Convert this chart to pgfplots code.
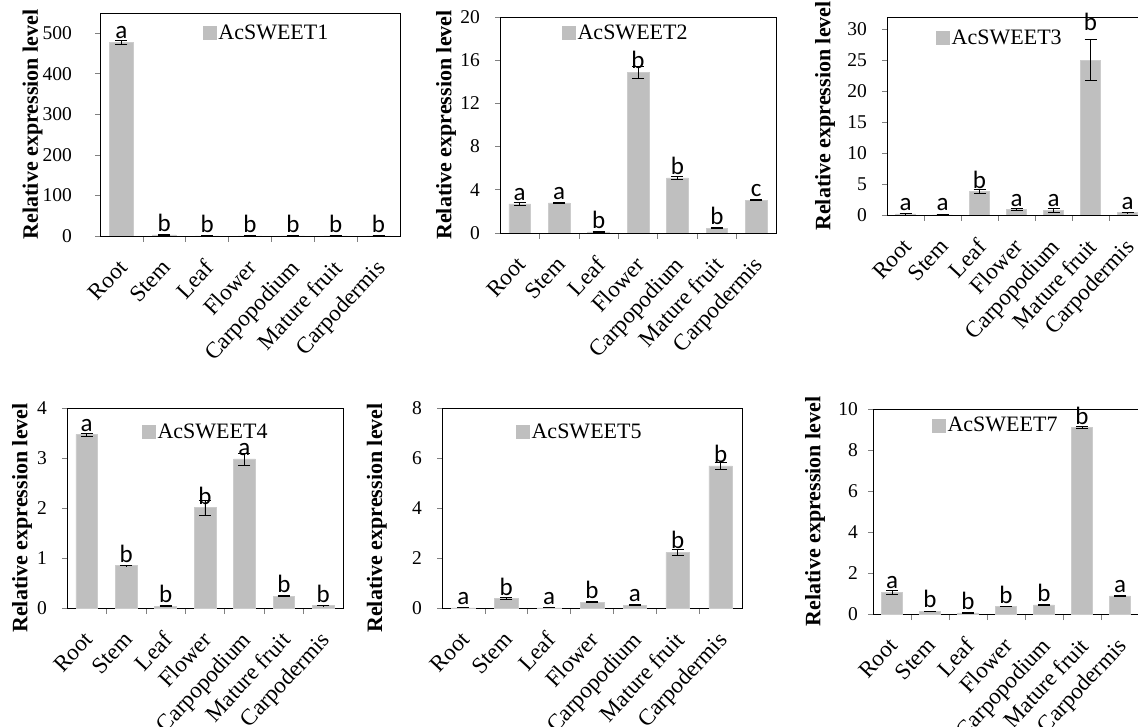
\documentclass[border=0pt]{standalone}
\usepackage{pgfplots}
\pgfplotsset{compat=1.18}
\usepackage{fontspec}
\setmainfont{Liberation Serif}
\newfontfamily\calfont{Carlito}
\definecolor{barfill}{HTML}{BFBFBF}
\definecolor{baredge}{HTML}{CCCCCC}
\newcommand\tfont{\fontsize{19.5}{21}\selectfont}
\newcommand\cfont{\fontsize{23}{25}\selectfont}
\newcommand\lfont{\fontsize{22}{24}\selectfont\bfseries}
\newcommand\gfont{\fontsize{22}{24}\selectfont}
\newcommand\afont{\calfont\fontsize{25}{27}\selectfont}
\pgfplotsset{
  sweet/.style={
    scale only axis,
    xmin=-0.5, xmax=6.5, ymin=0,
    xtick={0,...,6},
    xticklabels={Root,Stem,Leaf,Flower,Carpopodium,Mature fruit,Carpodermis},
    minor xtick={0.5,1.5,...,5.5},
    xtick pos=bottom, ytick pos=left, tick align=outside,
    major x tick style={draw=none},
    minor tick length=6pt, major tick length=5pt,
    tick style={gray, line width=0.7pt},
    xticklabel style={xshift=-4pt, yshift=-17pt, rotate=47, anchor=north east, font=\cfont, inner sep=0pt},
    yticklabel style={xshift=#1, font=\tfont, inner sep=0pt},
    /pgf/number format/assume math mode=true,
    axis line style={black, line width=0.7pt},
    ylabel={Relative expression level},
    ylabel style={font=\lfont},
    legend style={draw=none, fill=none, font=\gfont, anchor=west, inner sep=0pt, outer sep=0pt},
    legend image code/.code={\fill[barfill] (0pt,-6.5pt) rectangle (13pt,6.5pt);},
  },
  sweet/.default=-15pt,
  sweetbar/.style={ybar, bar width=0.55, fill=barfill, draw=baredge, line width=0.5pt,
    error bars/.cd, y dir=both, y explicit,
    error bar style={black, line width=0.9pt},
    error mark options={rotate=90, black, line width=0.9pt, mark size=6pt}},
  sweetlet/.style={draw=none, mark=none, nodes near coords, point meta=explicit symbolic,
    nodes near coords style={anchor=south, font=\afont, inner sep=3pt, black}, forget plot},
}
\begin{document}
\begin{tikzpicture}
\useasboundingbox (0,0) rectangle (1138pt,726pt);

% Panel 1
\begin{axis}[sweet=-23pt, at={(100pt,490pt)}, anchor=south west, width=300pt, height=223pt,
  ymax=550, ytick={0,100,...,500},
  ylabel style={at={(axis description cs:-0.225,0.5)}, anchor=center},
  legend style={at={(0.343,0.91)}}]
\addplot[sweetbar] coordinates {(0,478) +- (0,5) (1,3) +- (0,0.5) (2,0.3) +- (0,0) (3,0.3) +- (0,0) (4,0.3) +- (0,0) (5,0.3) +- (0,0) (6,0.3) +- (0,0)};
\addlegendentry{AcSWEET1}
\addplot[sweetlet] coordinates {(0,478)[a] (1,3)[b] (2,0.3)[b] (3,0.3)[b] (4,0.3)[b] (5,0.3)[b] (6,0.3)[b]};
\end{axis}

% Panel 2
\begin{axis}[sweet=-15pt, at={(500pt,493pt)}, anchor=south west, width=276pt, height=216pt,
  ymax=20, ytick={0,4,...,20},
  ylabel style={at={(axis description cs:-0.195,0.5)}, anchor=center},
  legend style={at={(0.225,0.926)}}]
\addplot[sweetbar] coordinates {(0,2.7) +- (0,0.15) (1,2.8) +- (0,0.05) (2,0.1) +- (0,0.03) (3,14.9) +- (0,0.55) (4,5.1) +- (0,0.15) (5,0.45) +- (0,0.05) (6,3.05) +- (0,0.05)};
\addlegendentry{AcSWEET2}
\addplot[sweetlet] coordinates {(0,2.7)[a] (1,2.8)[a] (2,0.1)[b] (3,14.9)[b] (4,5.1)[b] (5,0.45)[b] (6,3.05)[c]};
\end{axis}

% Panel 3
\begin{axis}[sweet=-15pt, at={(887pt,511pt)}, anchor=south west, width=259pt, height=198pt,
  ymax=32, ytick={0,5,...,30},
  ylabel style={at={(axis description cs:-0.239,0.5)}, anchor=center},
  legend style={at={(0.19,0.894)}}]
\addplot[sweetbar] coordinates {(0,0.2) +- (0,0.03) (1,0.02) +- (0,0) (2,3.76) +- (0,0.3) (3,0.9) +- (0,0.1) (4,0.75) +- (0,0.3) (5,25.0) +- (0,3.3) (6,0.4) +- (0,0.05)};
\addlegendentry{AcSWEET3}
\addplot[sweetlet] coordinates {(0,0.2)[a] (1,0.2)[a] (2,3.76)[b] (3,0.9)[a] (4,0.75)[a] (5,29.2)[b] (6,0.4)[a]};
\end{axis}

% Panel 4
\begin{axis}[sweet=-15pt, at={(67pt,118pt)}, anchor=south west, width=276pt, height=200pt,
  ymax=4, ytick={0,1,...,4},
  ylabel style={at={(axis description cs:-0.163,0.45)}, anchor=center},
  legend style={at={(0.272,0.88)}}]
\addplot[sweetbar] coordinates {(0,3.47) +- (0,0.03) (1,0.85) +- (0,0.005) (2,0.04) +- (0,0.01) (3,2.01) +- (0,0.15) (4,2.98) +- (0,0.12) (5,0.24) +- (0,0.01) (6,0.05) +- (0,0.005)};
\addlegendentry{AcSWEET4}
\addplot[sweetlet] coordinates {(0,3.47)[a] (1,0.85)[b] (2,0.04)[b] (3,2.01)[b] (4,2.98)[a] (5,0.24)[b] (6,0.05)[b]};
\end{axis}

% Panel 5
\begin{axis}[sweet=-15pt, at={(442pt,118pt)}, anchor=south west, width=300pt, height=200pt,
  ymax=8, ytick={0,2,...,8},
  ylabel style={at={(axis description cs:-0.217,0.45)}, anchor=center},
  legend style={at={(0.247,0.88)}}]
\addplot[sweetbar] coordinates {(0,0.005) +- (0,0) (1,0.38) +- (0,0.03) (2,0.005) +- (0,0) (3,0.24) +- (0,0.02) (4,0.12) +- (0,0.02) (5,2.23) +- (0,0.12) (6,5.69) +- (0,0.15)};
\addlegendentry{AcSWEET5}
\addplot[sweetlet] coordinates {(0,0.005)[a] (1,0.38)[b] (2,0.005)[a] (3,0.24)[b] (4,0.12)[a] (5,2.23)[b] (6,5.69)[b]};
\end{axis}

% Panel 6
\begin{axis}[sweet=-10pt, at={(873pt,112pt)}, anchor=south west, width=266pt, height=205pt,
  ymax=10, ytick={0,2,...,10},
  ylabel style={at={(axis description cs:-0.218,0.5)}, anchor=center},
  legend style={at={(0.222,0.92)}}]
\addplot[sweetbar] coordinates {(0,1.07) +- (0,0.1) (1,0.13) +- (0,0.01) (2,0.06) +- (0,0.01) (3,0.37) +- (0,0.01) (4,0.45) +- (0,0.01) (5,9.1) +- (0,0.07) (6,0.89) +- (0,0.03)};
\addlegendentry{AcSWEET7}
\addplot[sweetlet] coordinates {(0,1.07)[a] (1,0.13)[b] (2,0.06)[b] (3,0.37)[b] (4,0.45)[b] (5,9.1)[b] (6,0.89)[a]};
\end{axis}
\end{tikzpicture}
\end{document}
